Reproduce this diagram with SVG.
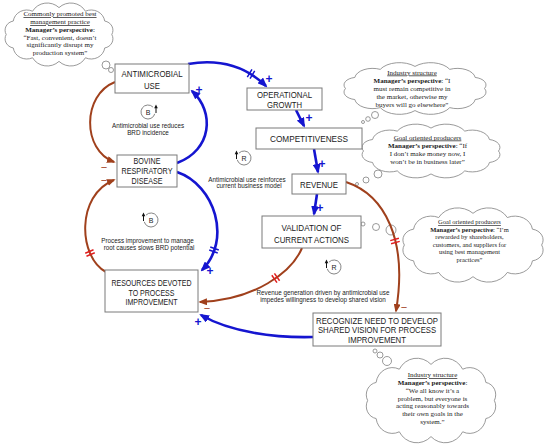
<svg xmlns="http://www.w3.org/2000/svg" width="550" height="445" viewBox="0 0 550 445">
<style>
.box{fill:#fff;stroke:#7a7a7a;stroke-width:1}
.bt{font-family:"Liberation Sans",Arial,sans-serif;font-size:9.5px;fill:#1a1a1a;text-anchor:middle}
.b9{font-size:9px}
.cl{fill:#fff;stroke:#808080;stroke-width:0.8}
.ct{font-family:"Liberation Serif","Times New Roman",serif;font-size:7px;fill:#1a1a1a;text-anchor:middle}
.c65{font-size:6.5px}
.u{text-decoration:underline}
.bo{font-weight:bold}
.lt{font-family:"Liberation Sans",Arial,sans-serif;font-size:6.3px;fill:#1a1a1a;text-anchor:middle}
.blue{fill:none;stroke:#1515d0;stroke-width:2.6}
.red{fill:none;stroke:#a0401c;stroke-width:2}
.hb{stroke:#1515d0;stroke-width:1.5;fill:none}
.hr{stroke:#e01e1e;stroke-width:1.5;fill:none}
.pl{font-family:"Liberation Sans",Arial,sans-serif;font-size:12px;fill:#1515d0;text-anchor:middle;font-weight:bold}
.mi{font-family:"Liberation Sans",Arial,sans-serif;font-size:11px;fill:#a0401c;text-anchor:middle}
.lp{fill:none;stroke:#666;stroke-width:0.8}
.la{fill:#111}
.ls{stroke:#111;stroke-width:1}
.ll{font-family:"Liberation Sans",Arial,sans-serif;font-size:7px;fill:#222;text-anchor:middle}
</style>
<defs>
<path id="cloud" vector-effect="non-scaling-stroke" d="M0,-48 A27.6,27.6 0 0 1 44,-41.6 A22.7,22.7 0 0 1 76.2,-24 A16.6,16.6 0 0 1 88,0 A16.6,16.6 0 0 1 76.2,24 A22.7,22.7 0 0 1 44,41.6 A27.6,27.6 0 0 1 0,48 A27.6,27.6 0 0 1 -44,41.6 A22.7,22.7 0 0 1 -76.2,24 A16.6,16.6 0 0 1 -88,0 A16.6,16.6 0 0 1 -76.2,-24 A22.7,22.7 0 0 1 -44,-41.6 A27.6,27.6 0 0 1 0,-48 Z"/>
<marker id="ahb" viewBox="0 0 10 8" refX="8" refY="4" markerWidth="10" markerHeight="8" markerUnits="userSpaceOnUse" orient="auto"><path d="M0,0L10,4L0,8z" fill="#1515d0"/></marker>
<marker id="ahr" viewBox="0 0 10 8" refX="8" refY="4" markerWidth="9" markerHeight="7" markerUnits="userSpaceOnUse" orient="auto"><path d="M0,0L10,4L0,8z" fill="#a0401c"/></marker>
</defs>
<rect width="550" height="445" fill="#fff"/>

<g id="cloud-best-practice">
<circle class="cl" cx="106" cy="65" r="4"/>
<circle class="cl" cx="111" cy="70" r="2.5"/>
<use href="#cloud" class="cl" transform="translate(59,34.5) scale(0.6,0.56)"/>
<text class="ct"><tspan class="u" x="60" y="16">Commonly promoted best</tspan><tspan class="u" x="60" y="24">management practice</tspan><tspan x="60" y="32"><tspan class="bo">Manager’s perspective</tspan>:</tspan><tspan x="60" y="39.5">“Fast, convenient, doesn’t</tspan><tspan x="60" y="47">significantly disrupt my</tspan><tspan x="60" y="54.5">production system”</tspan></text>
</g>

<g id="cloud-industry-1">
<circle class="cl" cx="375" cy="115" r="3.5"/>
<circle class="cl" cx="368" cy="119" r="2.3"/>
<circle class="cl" cx="363" cy="122" r="1.5"/>
<use href="#cloud" class="cl" transform="translate(415,88.5) scale(0.79,0.46)"/>
<text class="ct"><tspan class="u" x="412" y="74.5">Industry structure</tspan><tspan x="412" y="82.5"><tspan class="bo">Manager’s perspective</tspan>: “I</tspan><tspan x="412" y="90.5">must remain competitive in</tspan><tspan x="412" y="98.5">the market, otherwise my</tspan><tspan x="412" y="106.5">buyers will go elsewhere”</tspan></text>
</g>

<g id="cloud-goal-1">
<circle class="cl" cx="378" cy="174" r="4"/>
<circle class="cl" cx="366" cy="180" r="3"/>
<circle class="cl" cx="357" cy="184" r="1.5"/>
<use href="#cloud" class="cl" transform="translate(431,151) scale(0.767,0.478)"/>
<text class="ct"><tspan class="u" x="427.5" y="139.5">Goal oriented producers</tspan><tspan x="427.5" y="147.5"><tspan class="bo">Manager’s perspective</tspan>: “If</tspan><tspan x="427.5" y="155.5">I don’t make money now, I</tspan><tspan x="427.5" y="164">won’t be in business later”</tspan></text>
</g>

<g id="cloud-goal-2">
<circle class="cl" cx="363" cy="224" r="2"/>
<circle class="cl" cx="376" cy="227" r="3.5"/>
<circle class="cl" cx="391" cy="230" r="5"/>
<use href="#cloud" class="cl" transform="translate(473,245) scale(0.78,0.66)"/>
<text class="ct c65"><tspan class="u" x="469.5" y="224">Goal oriented producers</tspan><tspan x="469.5" y="231.5"><tspan class="bo">Manager’s perspective</tspan>: “I’m</tspan><tspan x="469.5" y="239">rewarded by shareholders,</tspan><tspan x="469.5" y="246.5">customers, and suppliers for</tspan><tspan x="469.5" y="254">using best management</tspan><tspan x="469.5" y="262">practices”</tspan></text>
</g>

<g id="cloud-industry-2">
<circle class="cl" cx="375" cy="351" r="2"/>
<circle class="cl" cx="380" cy="355" r="3"/>
<circle class="cl" cx="387" cy="361" r="4.5"/>
<use href="#cloud" class="cl" transform="translate(431,400.5) scale(0.72,0.752)"/>
<text class="ct"><tspan class="u" x="432.5" y="377">Industry structure</tspan><tspan x="432.5" y="385"><tspan class="bo">Manager’s perspective</tspan>:</tspan><tspan x="432.5" y="393">“We all know it’s a</tspan><tspan x="432.5" y="400.5">problem, but everyone is</tspan><tspan x="432.5" y="408">acting reasonably towards</tspan><tspan x="432.5" y="415.5">their own goals in the</tspan><tspan x="432.5" y="423.5">system.”</tspan></text>
</g>

<g id="connectors">
<path class="blue" marker-end="url(#ahb)" d="M188,64 Q235,56 266,86"/>
<path class="blue" marker-end="url(#ahb)" d="M296,110 L304,126"/>
<path class="blue" marker-end="url(#ahb)" d="M314,149 L318,172"/>
<path class="blue" marker-end="url(#ahb)" d="M317,194 L314,214"/>
<path class="blue" marker-end="url(#ahb)" d="M177,163 C212,150 215,112 192,91"/>
<path class="blue" marker-end="url(#ahb)" d="M177,172 C215,185 232,240 202,270"/>
<path class="blue" marker-end="url(#ahb)" d="M313,337 C275,338 230,332 201,315"/>
<path class="red" marker-end="url(#ahr)" d="M115,82 C82,95 82,150 114,162"/>
<path class="red" marker-end="url(#ahr)" d="M106,272 C78,257 76,195 114,180"/>
<path class="red" marker-end="url(#ahr)" d="M346,182 C385,195 408,240 396,311"/>
<path class="red" marker-end="url(#ahr)" d="M302,248 C292,272 255,300 200,302"/>
<g class="hb" transform="translate(251,74) rotate(31)"><path d="M-1.6,-4.5V4.5M1.6,-4.5V4.5"/></g>
<g class="hb" transform="translate(214,250) rotate(109)"><path d="M-1.6,-4.5V4.5M1.6,-4.5V4.5"/></g>
<g class="hr" transform="translate(90,253) rotate(-113)"><path d="M-1.6,-4.5V4.5M1.6,-4.5V4.5"/></g>
<g class="hr" transform="translate(395,241) rotate(75)"><path d="M-1.6,-4.5V4.5M1.6,-4.5V4.5"/></g>
<g class="hr" transform="translate(275.7,278) rotate(145)"><path d="M-1.6,-4.5V4.5M1.6,-4.5V4.5"/></g>
<text class="pl" x="269" y="83">+</text>
<text class="pl" x="309" y="122">+</text>
<text class="pl" x="322" y="168">+</text>
<text class="pl" x="320" y="212">+</text>
<text class="pl" x="199" y="94">+</text>
<text class="pl" x="210" y="275">+</text>
<text class="pl" x="198" y="326">+</text>
<text class="mi" x="104" y="170.5">−</text>
<text class="mi" x="104" y="184">−</text>
<text class="mi" x="404" y="311">−</text>
<text class="mi" x="207" y="312">−</text>
</g>

<g id="loop-b1">
<path class="lp" d="M152.95,107.05 A7,7 0 1 0 154.76,113.81"/>
<text class="ll" x="148" y="114.5">B</text>
<path class="ls" d="M156,113V107.5"/><path class="la" d="M156,104.5L154.2,108.2H157.8Z"/>
<text class="lt"><tspan x="148" y="128">Antimicrobial use reduces</tspan><tspan x="148" y="134.5">BRD incidence</tspan></text>
</g>
<g id="loop-r1">
<path class="lp" d="M239.05,153.05 A7,7 0 1 1 237.24,159.81"/>
<text class="ll" x="244" y="160.5">R</text>
<path class="ls" d="M236.5,159V153.5"/><path class="la" d="M236.5,150.5L234.7,154.2H238.3Z"/>
<text class="lt"><tspan x="247" y="181.5">Antimicrobial use reinforces</tspan><tspan x="249" y="187.5">current business model</tspan></text>
</g>
<g id="loop-b2">
<path class="lp" d="M146.05,215.05 A7,7 0 1 1 144.24,221.81"/>
<text class="ll" x="151" y="222.5">B</text>
<path class="ls" d="M143.5,221V215.5"/><path class="la" d="M143.5,212.5L141.7,216.2H145.3Z"/>
<text class="lt"><tspan x="147.5" y="243">Process improvement to manage</tspan><tspan x="149" y="249.5">root causes slows BRD potential</tspan></text>
</g>
<g id="loop-r2">
<path class="lp" d="M329.05,262.05 A7,7 0 1 1 327.24,268.81"/>
<text class="ll" x="334" y="269.5">R</text>
<path class="ls" d="M326.5,268V262.5"/><path class="la" d="M326.5,259.5L324.7,263.2H328.3Z"/>
<text class="lt"><tspan x="323" y="295">Revenue generation driven by antimicrobial use</tspan><tspan x="323" y="301.5">impedes willingness to develop shared vision</tspan></text>
</g>

<g id="n-antimicrobial-use">
<rect class="box" x="115" y="64" width="74" height="29"/>
<text class="bt"><tspan x="152" y="77" textLength="61" lengthAdjust="spacingAndGlyphs">ANTIMICROBIAL</tspan><tspan x="152" y="88.5" textLength="16" lengthAdjust="spacingAndGlyphs">USE</tspan></text>
</g>
<g id="n-operational-growth">
<rect class="box" x="247" y="88" width="75" height="22"/>
<text class="bt"><tspan x="284.5" y="98" textLength="55" lengthAdjust="spacingAndGlyphs">OPERATIONAL</tspan><tspan x="284.5" y="107.5" textLength="35" lengthAdjust="spacingAndGlyphs">GROWTH</tspan></text>
</g>
<g id="n-competitiveness">
<rect class="box" x="256" y="128" width="106" height="21"/>
<text class="bt" x="309" y="142" textLength="78" lengthAdjust="spacingAndGlyphs">COMPETITIVENESS</text>
</g>
<g id="n-revenue">
<rect class="box" x="292" y="174" width="54" height="20"/>
<text class="bt" x="319" y="187.5" textLength="38" lengthAdjust="spacingAndGlyphs">REVENUE</text>
</g>
<g id="n-validation">
<rect class="box" x="262" y="216" width="99" height="32"/>
<text class="bt"><tspan x="311.5" y="230.5" textLength="60" lengthAdjust="spacingAndGlyphs">VALIDATION OF</tspan><tspan x="311.5" y="242.5" textLength="75" lengthAdjust="spacingAndGlyphs">CURRENT ACTIONS</tspan></text>
</g>
<g id="n-bovine-respiratory-disease">
<rect class="box" x="117" y="155" width="60" height="32"/>
<text class="bt b9"><tspan x="147" y="164.3" textLength="27" lengthAdjust="spacingAndGlyphs">BOVINE</tspan><tspan x="147" y="174.3" textLength="51" lengthAdjust="spacingAndGlyphs">RESPIRATORY</tspan><tspan x="147" y="184.3" textLength="31" lengthAdjust="spacingAndGlyphs">DISEASE</tspan></text>
</g>
<g id="n-resources">
<rect class="box" x="105" y="270" width="93" height="42"/>
<text class="bt b9"><tspan x="151.5" y="286" textLength="80" lengthAdjust="spacingAndGlyphs">RESOURCES DEVOTED</tspan><tspan x="151.5" y="295.6" textLength="46" lengthAdjust="spacingAndGlyphs">TO PROCESS</tspan><tspan x="151.5" y="305" textLength="52" lengthAdjust="spacingAndGlyphs">IMPROVEMENT</tspan></text>
</g>
<g id="n-recognize">
<rect class="box" x="313" y="313" width="128" height="33"/>
<text class="bt"><tspan x="377" y="323.5" textLength="122" lengthAdjust="spacingAndGlyphs">RECOGNIZE NEED TO DEVELOP</tspan><tspan x="377" y="333" textLength="118" lengthAdjust="spacingAndGlyphs">SHARED VISION FOR PROCESS</tspan><tspan x="377" y="342.5" textLength="58" lengthAdjust="spacingAndGlyphs">IMPROVEMENT</tspan></text>
</g>
</svg>
